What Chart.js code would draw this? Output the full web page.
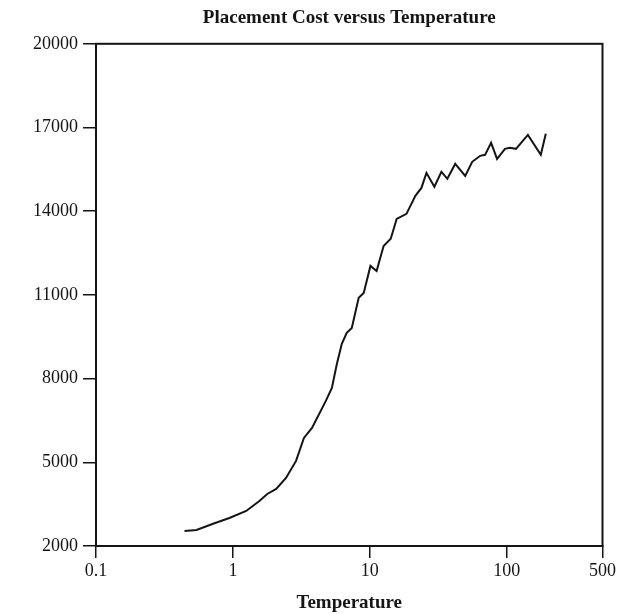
<!DOCTYPE html>
<html>
<head>
<meta charset="utf-8">
<script src="https://cdn.jsdelivr.net/npm/chart.js@4.4.0/dist/chart.umd.min.js"></script>
<style>
	body { margin: 0; background: #fff; }
	#costChart { display: block; background: #fff; }
</style>
</head>
<body>
<canvas id="costChart" width="618" height="614"></canvas>
<script>
// values
var temperatures = [0.443, 0.542, 0.708, 0.942, 1.25, 1.56, 1.78, 2.07, 2.44, 2.89, 3.30, 3.78, 4.77, 5.28, 5.74, 6.24, 6.78, 7.38, 8.29, 9.02, 10.1, 11.2, 12.6, 14.2, 15.7, 18.5, 21.5, 23.8, 25.9, 29.6, 33.3, 36.8, 42.0, 49.7, 55.9, 63.9, 69.4, 76.8, 84.9, 97.0, 105.5, 116.7, 142.6, 177.2, 192.7];
var costs = [2540, 2575, 2790, 3005, 3255, 3615, 3865, 4045, 4440, 5050, 5875, 6230, 7200, 7665, 8525, 9245, 9640, 9815, 10895, 11070, 12040, 11860, 12755, 13010, 13725, 13905, 14550, 14835, 15375, 14875, 15410, 15160, 15695, 15265, 15770, 15985, 16020, 16450, 15875, 16235, 16270, 16235, 16735, 16020, 16775];
var xTicks = [0.1, 1, 10, 100, 500];
var yTicks = [2000, 5000, 8000, 11000, 14000, 17000, 20000];

var ink = "#151515";
var serif = "'Liberation Serif', 'DejaVu Serif', serif";

var points = [];
for (var i = 0; i < temperatures.length; i++) {
	points.push({ x: temperatures[i], y: costs[i] });
}

// draws the box around the plot area
var frameBox = {
	id: "frameBox",
	afterDraw: function (chart) {
		var a = chart.chartArea;
		var ctx = chart.ctx;
		ctx.save();
		ctx.strokeStyle = ink;
		ctx.lineWidth = 2;
		ctx.strokeRect(a.left, a.top, a.right - a.left, a.bottom - a.top);
		ctx.restore();
	}
};

var ctx = document.getElementById("costChart").getContext("2d");
var costChart = new Chart(ctx, {
	type: "line",
	data: {
		datasets: [{
			data: points,
			borderColor: ink,
			borderWidth: 2,
			pointRadius: 0,
			tension: 0,
			fill: false
		}]
	},
	options: {
		responsive: false,
		animation: false,
		layout: { padding: { left: 0, right: 12, top: 0, bottom: 0 } },
		plugins: {
			legend: { display: false },
			tooltip: { enabled: false },
			title: {
				display: true,
				text: "Placement Cost versus Temperature",
				fullSize: false,
				color: ink,
				font: { family: serif, size: 19, weight: "bold" },
				padding: { top: 7, bottom: 14 }
			}
		},
		scales: {
			x: {
				type: "logarithmic",
				min: 0.1,
				max: 500,
				afterBuildTicks: function (scale) {
					scale.ticks = xTicks.map(function (v) { return { value: v }; });
				},
				afterFit: function (scale) {
					scale.height = 68;
				},
				ticks: {
					color: ink,
					font: { family: serif, size: 18 },
					padding: 2,
					maxRotation: 0,
					autoSkip: false,
					callback: function (value) { return String(value); }
				},
				grid: {
					drawOnChartArea: false,
					color: ink,
					lineWidth: 1.5,
					tickLength: 12
				},
				border: { display: true, color: ink, width: 2 },
				title: {
					display: true,
					text: "Temperature",
					color: ink,
					font: { family: serif, size: 19, weight: "bold" },
					padding: { top: 2, bottom: 0 }
				}
			},
			y: {
				min: 2000,
				max: 20000,
				afterBuildTicks: function (scale) {
					scale.ticks = yTicks.map(function (v) { return { value: v }; });
				},
				afterFit: function (scale) {
					scale.width = 96;
				},
				ticks: {
					color: ink,
					font: { family: serif, size: 18 },
					padding: 5,
					autoSkip: false,
					callback: function (value) { return String(value); }
				},
				grid: {
					drawOnChartArea: false,
					color: ink,
					lineWidth: 1.5,
					tickLength: 13
				},
				border: { display: true, color: ink, width: 2 }
			}
		}
	},
	plugins: [frameBox]
});
</script>
</body>
</html>
